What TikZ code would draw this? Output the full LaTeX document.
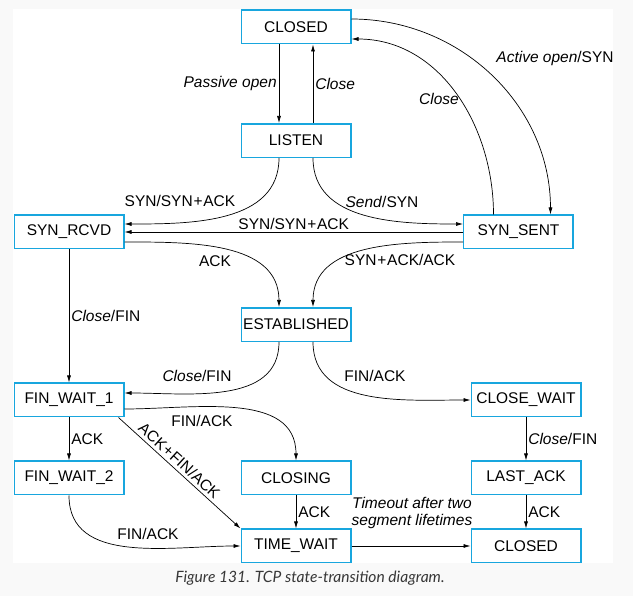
\documentclass[tikz,border=0pt]{standalone}
\usepackage{fontspec}
\setmainfont{Liberation Sans}
\newfontfamily\capfont{Lato}
\usetikzlibrary{arrows.meta}
\definecolor{boxblue}{RGB}{24,166,222}
\definecolor{capgray}{RGB}{55,55,55}
\definecolor{pagegray}{RGB}{249,249,249}
\newcommand{\pl}{\kern0.8pt+\kern0.8pt}

\begin{document}
\begin{tikzpicture}[
    x=1pt, y=-1pt,
    state/.style={rectangle, draw=boxblue, line width=1pt, fill=white,
        minimum width=110pt, minimum height=34pt, inner sep=0pt,
        font=\fontsize{15.5}{17}\selectfont,
        path picture={\draw[boxblue, line width=3pt]
            (path picture bounding box.north west) --
            (path picture bounding box.north east) --
            (path picture bounding box.south east);}},
    trans/.style={line width=0.7pt, -{Latex[length=7pt,width=4pt]}},
    lbl/.style={font=\fontsize{15.5}{17}\selectfont, inner sep=2pt}
]
    \useasboundingbox (0,0) rectangle (633,596);
    \fill[pagegray] (0,0) rectangle (633,596);
    \fill[white] (13,9) rectangle (613,563);

    % states
    \node[state] (closedtop) at (296,27) {CLOSED};
    \node[state] (listen) at (296,140.5) {LISTEN};
    \node[state] (synrcvd) at (69,232) {SYN\_RCVD};
    \node[state] (synsent) at (518.5,232) {SYN\_SENT};
    \node[state] (estab) at (296,324.5) {ESTABLISHED};
    \node[state] (finwait1) at (69,400) {FIN\_WAIT\_1};
    \node[state] (closewait) at (526,400) {CLOSE\_WAIT};
    \node[state] (finwait2) at (69,478) {FIN\_WAIT\_2};
    \node[state] (closing) at (296,478) {CLOSING};
    \node[state] (lastack) at (526,478) {LAST\_ACK};
    \node[state] (timewait) at (296,546) {TIME\_WAIT};
    \node[state] (closedbot) at (526,546) {CLOSED};

    % opening
    \draw[trans] ([xshift=-17pt]closedtop.south) -- node[lbl, left] {\textit{Passive open}} ([xshift=-17pt]listen.north);
    \draw[trans] ([xshift=17pt]listen.north) -- node[lbl, right] {\textit{Close}} ([xshift=17pt]closedtop.south);
    \draw[trans] ([yshift=8pt]closedtop.east) to[out=0, in=90] ([xshift=32pt]synsent.north)
        node[lbl] at (555,58) {\textit{Active open}/SYN};
    \draw[trans] ([xshift=-25pt]synsent.north) to[out=90, in=0] ([yshift=-12pt]closedtop.east)
        node[lbl] at (439,99) {\textit{Close}};
    \draw[trans] ([xshift=-17pt]listen.south) to[out=-90, in=0] ([yshift=8pt]synrcvd.east)
        node[lbl] at (180,201) {SYN/SYN\pl ACK};
    \draw[trans] ([xshift=17pt]listen.south) to[out=-90, in=180] ([yshift=8pt]synsent.west)
        node[lbl] at (382,202) {\textit{Send}/SYN};
    \draw[trans] (synsent.west) -- node[lbl, above] {SYN/SYN\pl ACK} (synrcvd.east);
    \draw[trans] ([yshift=-10pt]synrcvd.east) to[out=0, in=90] ([xshift=-17pt]estab.north)
        node[lbl] at (215,261) {ACK};
    \draw[trans] ([yshift=-10pt]synsent.west) to[out=180, in=90] ([xshift=17pt]estab.north)
        node[lbl] at (400,260) {SYN\pl ACK/ACK};

    % closing
    \draw[trans] (synrcvd.south) -- node[lbl, right] {\textit{Close}/FIN} (finwait1.north);
    \draw[trans] ([xshift=-17pt]estab.south) to[out=-90, in=0] ([yshift=7pt]finwait1.east)
        node[lbl] at (197,376) {\textit{Close}/FIN};
    \draw[trans] ([xshift=17pt]estab.south) to[out=-90, in=180] (closewait.west)
        node[lbl] at (375,376) {FIN/ACK};
    \draw[trans] (finwait1.south) -- node[lbl, right] {ACK} (finwait2.north);
    \draw[trans] ([yshift=-9pt]finwait1.east) to[out=0, in=90] (closing.north)
        node[lbl] at (202,421) {FIN/ACK};
    \draw[trans] ([xshift=-6pt]finwait1.south east) -- node[lbl, sloped, above=1pt, pos=0.45] {ACK\pl FIN/ACK} (timewait.north west);
    \draw[trans] (finwait2.south) to[out=-90, in=180] (timewait.west)
        node[lbl] at (148,534) {FIN/ACK};
    \draw[trans] (closing.south) -- node[lbl, right] {ACK} (timewait.north);
    \draw[trans] (timewait.east) -- (closedbot.west)
        node[lbl, align=center, font=\fontsize{15.5}{17}\selectfont\itshape] at (412,513)
        {Timeout after two\\segment lifetimes};
    \draw[trans] (closewait.south) -- node[lbl, right] {\textit{Close}/FIN} (lastack.north);
    \draw[trans] (lastack.south) -- node[lbl, right] {ACK} (closedbot.north);

    \node[font=\capfont\itshape\fontsize{15.6}{17}\selectfont, text=capgray] (caption) at (310,578)
        {Figure 131. TCP state-transition diagram.};
\end{tikzpicture}
\end{document}
